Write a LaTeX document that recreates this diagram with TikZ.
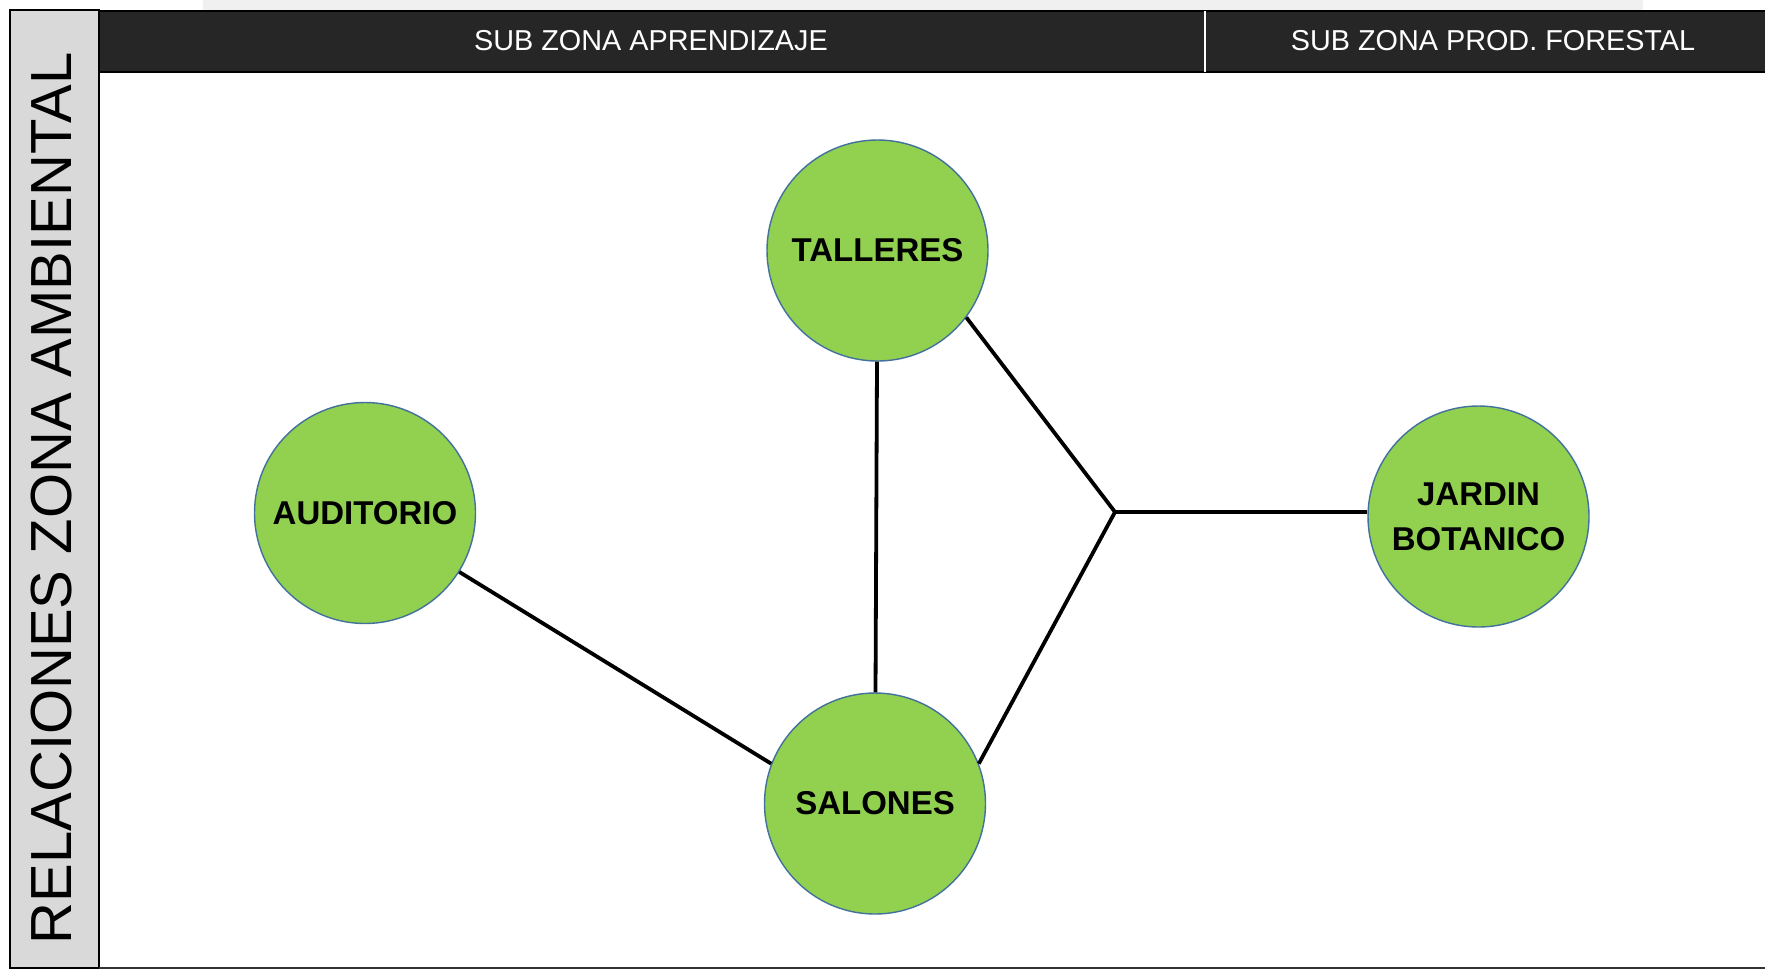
\documentclass[tikz,border=0pt]{standalone}
\usepackage{fontspec}
\setmainfont{Liberation Sans}
\definecolor{circfill}{HTML}{92D050}
\definecolor{circborder}{HTML}{41719C}
\definecolor{headblack}{HTML}{262626}
\definecolor{leftgrey}{HTML}{D9D9D9}
\definecolor{stripgrey}{HTML}{F0F0F0}
\begin{document}
\begin{tikzpicture}[x=0.5pt,y=-0.5pt,
  zone/.style={circle, draw=circborder, line width=0.7pt, fill=circfill,
    minimum size=110.5pt, inner sep=0pt, text=black, align=center,
    font=\fontsize{16.5}{22.5}\selectfont\bfseries},
  link/.style={line width=1.9pt, draw=black},
  head/.style={text=white, inner sep=0pt, font=\fontsize{14.4}{17}\selectfont},
  sidetext/.style={text=black, inner sep=0pt, rotate=90, font=\fontsize{29}{35}\selectfont}]
\useasboundingbox (0,0) rectangle (1765,971);
\fill[white] (0,0) rectangle (1765,971);
\fill[stripgrey] (203,0) rectangle (1643,10);
% frame
\filldraw[line width=1pt, fill=leftgrey, draw=black] (10,10) rectangle (99,968);
\draw[line width=1.2pt, draw=black!80] (99,968) -- (1765,968);
\filldraw[fill=headblack, draw=black, line width=1pt] (99,11) rectangle (1766,72);
\draw[white, line width=1pt] (1205,11) -- (1205,72);
% texts
\node[head] (h1) at (651,41) {SUB ZONA APRENDIZAJE};
\node[head] (h2) at (1493,41) {SUB ZONA PROD. FORESTAL};
\node[sidetext] (side) at (51.5,498.5) {RELACIONES ZONA AMBIENTAL};
% nodes
\node[zone] (T) at (877.5,250.5) {TALLERES};
\node[zone] (A) at (365,513) {AUDITORIO};
\node[zone] (S) at (875,803.5) {SALONES};
\node[zone] (B) at (1478.5,516.5) {JARDIN\\BOTANICO};
\coordinate (J) at (1115,512);
% links
\draw[link] (T) -- (S);
\draw[link] (T.-37) -- (J) -- (S.21);
\draw[link] (J) -- (J -| B.west);
\draw[link] (A.-32) -- (S.159);
\end{tikzpicture}
\end{document}
